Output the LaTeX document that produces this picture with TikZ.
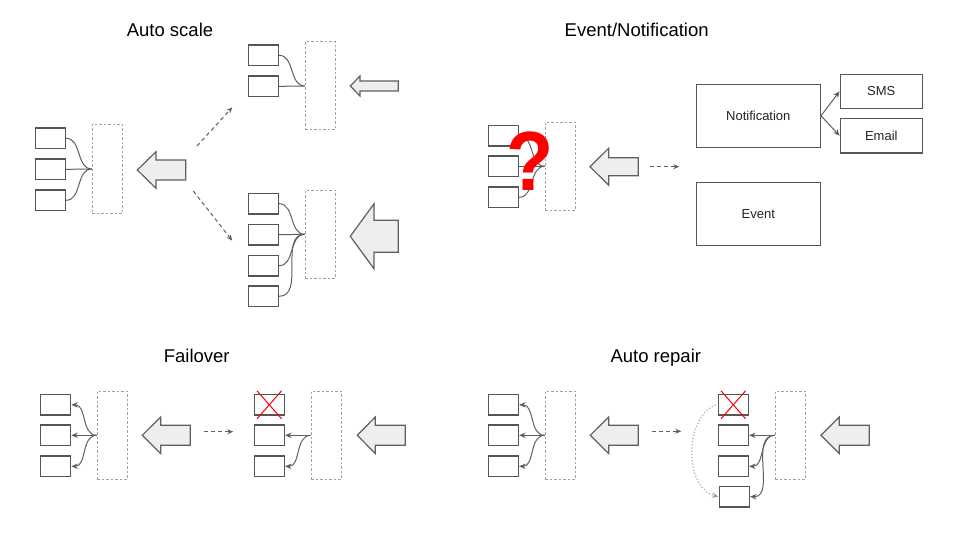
\documentclass[tikz,border=0pt]{standalone}
\usepackage{fontspec}
\setmainfont{Liberation Sans}
\usetikzlibrary{arrows.meta}
\definecolor{boxgray}{HTML}{555555}
\definecolor{lbgray}{HTML}{A0A0A0}
\definecolor{lngray}{HTML}{5F5F5F}
\definecolor{arrfill}{HTML}{EEEEEE}
\definecolor{txtcol}{HTML}{222222}
\tikzset{
  srv/.style={draw=boxgray, line width=1.6pt, minimum width=30pt, minimum height=20.5pt, inner sep=0pt},
  lb/.style={draw=lbgray, line width=1pt, dash pattern=on 2.5pt off 2pt, minimum width=30pt, minimum height=88pt, inner sep=0pt},
  bigbox/.style={draw=boxgray, line width=1.4pt, inner sep=0pt, font=\fontsize{13}{15}\selectfont, text=txtcol},
  title/.style={font=\fontsize{18.5}{20}\selectfont, text=black, anchor=base},
  fan/.style={draw=lngray, line width=1pt},
  fanarr/.style={draw=lngray, line width=1pt, -{Stealth[length=6.5pt,width=5.5pt]}},
  dasharr/.style={draw=lngray, line width=1pt, dash pattern=on 4pt off 3pt, -{Stealth[length=6pt,width=5pt]}},
  dotarr/.style={draw=lbgray, line width=1.2pt, dash pattern=on 1pt off 2.2pt, -{Stealth[length=6.5pt,width=5.5pt,fill=lngray]}},
  fatarr/.style={draw=lngray, line width=1.2pt, fill=arrfill, line join=miter},
  cross/.style={draw=red, line width=1pt}
}
\newcommand\myfatarrow[6]{%
  \path[fatarr] (#1,#2) -- (#3,#2-#5) -- (#3,#2-#6) -- (#4,#2-#6) -- (#4,#2+#6) -- (#3,#2+#6) -- (#3,#2+#5) -- cycle;}
\newcommand\mycross[1]{%
  \draw[cross] ([shift={(-12.3,-14)}]#1.center) -- ([shift={(12.3,14)}]#1.center);
  \draw[cross] ([shift={(12.3,-14)}]#1.center) -- ([shift={(-12.3,14)}]#1.center);}
\begin{document}
\begin{tikzpicture}[x=1pt,y=-1pt]
\useasboundingbox (0,0) rectangle (960,540);

% ===== Auto scale =====
\node[title] (tA) at (170,36.7) {Auto scale};
\node[srv] (a1) at (50.3,138.3) {};
\node[srv] (a2) at (50.3,169.3) {};
\node[srv] (a3) at (50.3,200.3) {};
\node[lb, minimum height=89pt] (lbA) at (107.3,169) {};
\draw[fan] (a1.east) to[out=0,in=180] (lbA.west);
\draw[fan] (a2.east) to[out=0,in=180] (lbA.west);
\draw[fan] (a3.east) to[out=0,in=180] (lbA.west);
\myfatarrow{137.3}{170}{156}{185.7}{18.3}{10}

\coordinate (dA1s) at (197,146);
\coordinate (dA1e) at (232.3,107.3);
\coordinate (dA2s) at (193.3,191);
\coordinate (dA2e) at (232.3,240.7);
\draw[dasharr] (dA1s) -- (dA1e);
\draw[dasharr] (dA2s) -- (dA2e);

\node[srv] (b1) at (263.3,55.3) {};
\node[srv] (b2) at (263.3,86.3) {};
\node[lb] (lbB) at (320.3,86) {};
\draw[fan] (b1.east) to[out=0,in=180] (lbB.west);
\draw[fan] (b2.east) to[out=0,in=180] (lbB.west);
\myfatarrow{350.3}{86}{360}{398.3}{10}{5}

\node[srv] (c1) at (263.3,203.7) {};
\node[srv] (c2) at (263.3,234.7) {};
\node[srv] (c3) at (263.3,265.7) {};
\node[srv] (c4) at (263.3,296.3) {};
\node[lb] (lbC) at (320.3,234.3) {};
\draw[fan] (c1.east) to[out=0,in=180] (lbC.west);
\draw[fan] (c2.east) to[out=0,in=180] (lbC.west);
\draw[fan] (c3.east) to[out=0,in=180] (lbC.west);
\draw[fan] (c4.east) to[out=0,in=180] (lbC.west);
\myfatarrow{350.3}{236.3}{374}{398.3}{32.5}{16}

% ===== Event/Notification =====
\node[title] (tB) at (636.7,36.7) {Event/Notification};
\node[srv] (d1) at (503.3,135.7) {};
\node[srv] (d2) at (503.3,166.3) {};
\node[srv] (d3) at (503.3,197.3) {};
\node[lb] (lbD) at (560.3,166.3) {};
\draw[fan] (d1.east) to[out=0,in=180] (lbD.west);
\draw[fan] (d2.east) to[out=0,in=180] (lbD.west);
\draw[fan] (d3.east) to[out=0,in=180] (lbD.west);
\node[text=red, font=\fontsize{84}{84}\selectfont\bfseries, anchor=base, xscale=0.92, inner sep=0pt] (qm) at (530,190.5) {?};
\myfatarrow{590}{166.7}{608.7}{638.3}{18.5}{9}
\coordinate (dBs) at (650,166.7);
\coordinate (dBe) at (679.3,166.7);
\draw[dasharr] (dBs) -- (dBe);
\node[bigbox, minimum width=124pt, minimum height=63pt] (notif) at (758.3,115.8) {Notification};
\node[bigbox, minimum width=124pt, minimum height=63pt] (event) at (758.3,213.8) {Event};
\node[bigbox, minimum width=82pt, minimum height=34pt] (sms) at (881.3,91.3) {SMS};
\node[bigbox, minimum width=82pt, minimum height=34.7pt] (email) at (881.3,135.7) {Email};
\draw[fanarr] (notif.east) -- (sms.west);
\draw[fanarr] (notif.east) -- (email.west);

% ===== Failover =====
\node[title] (tC) at (196.7,362.3) {Failover};
\node[srv] (e1) at (55.5,404.8) {};
\node[srv] (e2) at (55.5,435.3) {};
\node[srv] (e3) at (55.5,466.3) {};
\node[lb] (lbE) at (112.3,435.3) {};
\draw[fanarr] (lbE.west) to[out=180,in=0] (e1.east);
\draw[fanarr] (lbE.west) to[out=180,in=0] (e2.east);
\draw[fanarr] (lbE.west) to[out=180,in=0] (e3.east);
\myfatarrow{142.3}{435.3}{160.7}{190.3}{18.3}{10}
\coordinate (dCs) at (204.3,431.7);
\coordinate (dCe) at (233.3,431.7);
\draw[dasharr] (dCs) -- (dCe);
\node[srv] (f1) at (269.3,404.8) {};
\node[srv] (f2) at (269.3,435.3) {};
\node[srv] (f3) at (269.3,466.3) {};
\node[lb] (lbF) at (326.3,435.3) {};
\mycross{f1}
\draw[fanarr] (lbF.west) to[out=180,in=0] (f2.east);
\draw[fanarr] (lbF.west) to[out=180,in=0] (f3.east);
\myfatarrow{357.3}{435.3}{375.3}{405.3}{18.3}{10}

% ===== Auto repair =====
\node[title] (tD) at (655.8,362.3) {Auto repair};
\node[srv] (g1) at (503.3,404.8) {};
\node[srv] (g2) at (503.3,435.3) {};
\node[srv] (g3) at (503.3,466.3) {};
\node[lb] (lbG) at (560.3,435.3) {};
\draw[fanarr] (lbG.west) to[out=180,in=0] (g1.east);
\draw[fanarr] (lbG.west) to[out=180,in=0] (g2.east);
\draw[fanarr] (lbG.west) to[out=180,in=0] (g3.east);
\myfatarrow{590.3}{435.3}{608.7}{638.3}{18.3}{10}
\coordinate (dDs) at (652,431.3);
\coordinate (dDe) at (681.3,431.3);
\draw[dasharr] (dDs) -- (dDe);
\node[srv] (h1) at (733.3,404.8) {};
\node[srv] (h2) at (733.3,435.3) {};
\node[srv] (h3) at (733.3,466.3) {};
\node[srv] (h4) at (734.3,496.7) {};
\node[lb] (lbH) at (790.3,435.3) {};
\mycross{h1}
\draw[fanarr] (lbH.west) to[out=180,in=0] (h2.east);
\draw[fanarr] (lbH.west) to[out=180,in=0] (h3.east);
\draw[fanarr] (lbH.west) to[out=180,in=0] (h4.east);
\draw[dotarr] ([xshift=-2pt]h1.west) .. controls (684,418) and (684,488) .. (h4.west);
\myfatarrow{821}{435.3}{839.3}{869.3}{18.3}{10}
\end{tikzpicture}
\end{document}
